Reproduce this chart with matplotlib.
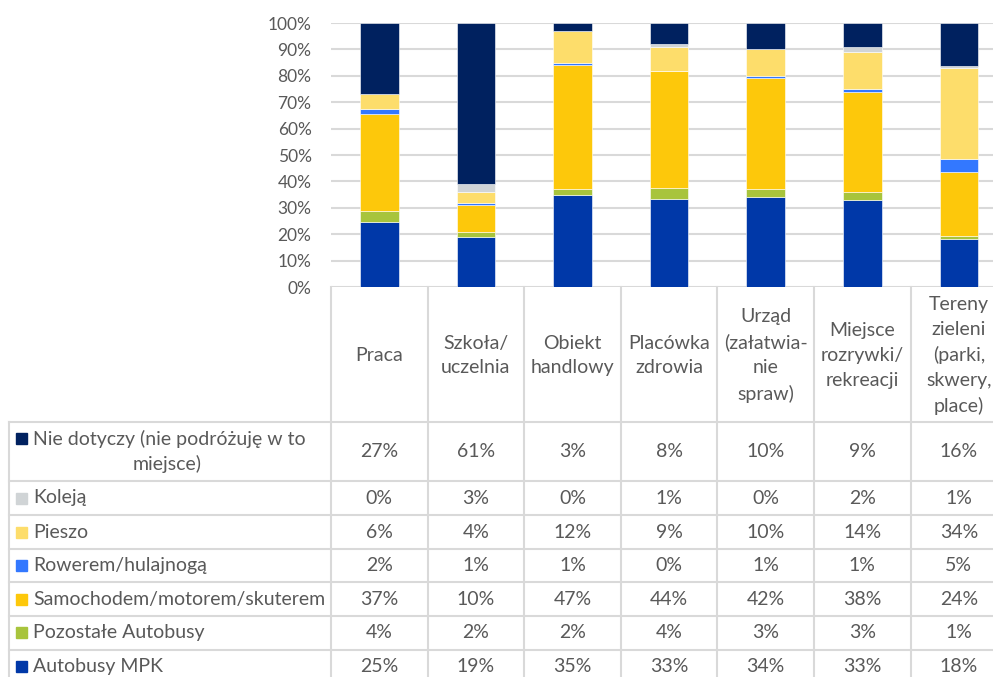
import matplotlib
matplotlib.use('Agg')
import matplotlib.pyplot as plt
import numpy as np

#+++++++++++++++++++++++++++++++++++++++++++++++++++++++++++++++++++++++++++++#

places = ['Praca', 'Szkoła/\nuczelnia', 'Obiekt\nhandlowy', 'Placówka\nzdrowia',
          'Urząd\n(załatwia-\nnie\nspraw)', 'Miejsce\nrozrywki/\nrekreacji',
          'Tereny\nzieleni\n(parki,\nskwery,\nplace)']

# stacked bottom -> top
modes = ['Autobusy MPK', 'Pozostałe Autobusy', 'Samochodem/motorem/skuterem',
         'Rowerem/hulajnogą', 'Pieszo', 'Koleją',
         'Nie dotyczy (nie podróżuję w to\nmiejsce)']

autobusy_mpk = [25, 19, 35, 33, 34, 33, 18]
pozostale    = [4, 2, 2, 4, 3, 3, 1]
samochodem   = [37, 10, 47, 44, 42, 38, 24]
rowerem      = [2, 1, 1, 0, 1, 1, 5]
pieszo       = [6, 4, 12, 9, 10, 14, 34]
koleja       = [0, 3, 0, 1, 0, 2, 1]
nie_dotyczy  = [27, 61, 3, 8, 10, 9, 16]

colors = ['#0038A8', '#A8C43C', '#FDC80B', '#3378FF', '#FDDD6B', '#D0D4D6', '#00215F']

#+++++++++++++++++++++++++++++++++++++++++++++++++++++++++++++++++++++++++++++#

plt.rcParams['font.family'] = ['Lato', 'DejaVu Sans']
TXT = '#595959'
GRID = '#D9D9D9'

series = np.array([autobusy_mpk, pozostale, samochodem, rowerem, pieszo, koleja, nie_dotyczy], dtype=float)
shares = series / series.sum(axis=0) * 100

W, H = 993, 677
fig = plt.figure(figsize=(W / 100, H / 100), dpi=100)

X0 = 331
CW = 96.6
Y100, Y0 = 23, 287

ax = fig.add_axes([X0 / W, 1 - Y0 / H, 7 * CW / W, (Y0 - Y100) / H])
ax.set_facecolor('none')
x = np.arange(len(places))
bottom = np.zeros(len(places))
for vals, c in zip(shares, colors):
    ax.bar(x, vals, bottom=bottom, width=0.4, color=c, edgecolor='white', linewidth=0.4, zorder=3)
    bottom += vals
ax.set_xlim(-0.5, 6.5)
ax.set_ylim(0, 100)
ax.set_yticks(np.arange(0, 101, 10))
ax.set_yticklabels(['%d%%' % v for v in range(0, 101, 10)], fontsize=12.5, color=TXT)
ax.tick_params(axis='y', length=0, pad=14)
ax.set_xticks([])
ax.yaxis.grid(True, color=GRID, linewidth=1.5)
for s in ax.spines.values():
    s.set_visible(False)

# data table in pixel coordinates
tb = fig.add_axes([0, 0, 1, 1])
tb.set_xlim(0, W)
tb.set_ylim(H, 0)
tb.axis('off')
tb.patch.set_alpha(0)

rows = [422, 481, 515, 549, 582.3, 616, 649.7, 684]
XL = 9
XR = X0 + 7 * CW
lw = 1.5
for i in range(8):
    xv = X0 + i * CW
    tb.plot([xv, xv], [Y0, H], color=GRID, lw=lw, clip_on=False)
tb.plot([XL, XL], [rows[0], H], color=GRID, lw=lw)
for yv in rows[:-1]:
    tb.plot([XL, XR], [yv, yv], color=GRID, lw=lw)

FS = 14
for i, p in enumerate(places):
    tb.text(X0 + (i + 0.5) * CW, (Y0 + rows[0]) / 2 + 1, p, ha='center', va='center',
            fontsize=FS, color=TXT, linespacing=1.55)

# table rows, top -> bottom
for r, k in enumerate(range(len(modes) - 1, -1, -1)):
    yc = (rows[r] + rows[r + 1]) / 2
    label = modes[k]
    if '\n' in label:
        first, second = label.split('\n')
        tb.add_patch(plt.Rectangle((16, yc - 18.5), 11, 11, color=colors[k]))
        tb.text(33, yc - 12.5, first, ha='left', va='center', fontsize=FS, color=TXT)
        tb.text(167, yc + 12.5, second, ha='center', va='center', fontsize=FS, color=TXT)
    else:
        tb.add_patch(plt.Rectangle((16, yc - 5.5), 11, 11, color=colors[k]))
        tb.text(33, yc, label, ha='left', va='center', fontsize=FS, color=TXT)
    for i in range(len(places)):
        tb.text(X0 + (i + 0.5) * CW, yc, '%d%%' % series[k, i], ha='center', va='center',
                fontsize=FS, color=TXT)

fig.savefig('out.png', dpi=100)
